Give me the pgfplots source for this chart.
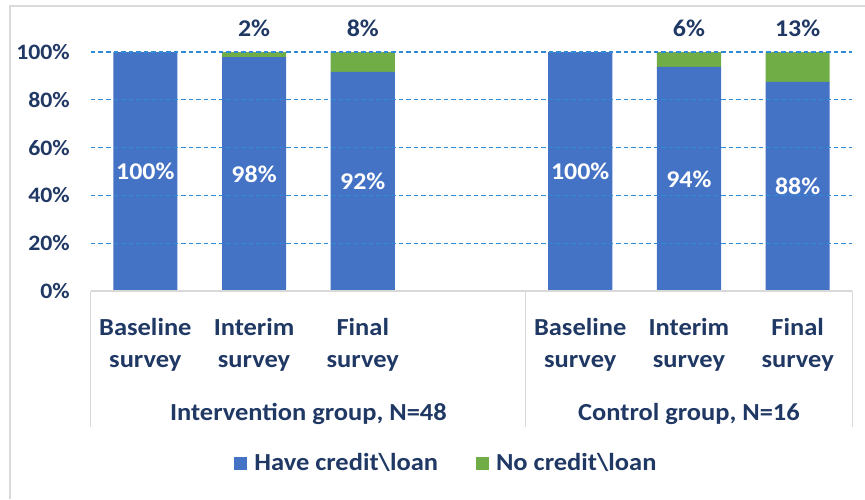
\documentclass[border=0pt]{standalone}
\usepackage{fontspec}
\setmainfont[FakeStretch=1.08]{Carlito}
\usepackage{pgfplots}
\pgfplotsset{compat=1.18}
\definecolor{barblue}{HTML}{4472C4}
\definecolor{bargreen}{HTML}{70AD47}
\definecolor{navy}{HTML}{203864}
\definecolor{gridblue}{HTML}{2F8AD8}
\definecolor{framegray}{HTML}{D9D9D9}
\tikzset{
  inlab/.style={font=\bfseries\fontsize{24}{26}\selectfont, text=white},
  toplab/.style={font=\bfseries\fontsize{24}{26}\selectfont, text=navy, anchor=base, yshift=16pt},
  catlab/.style={font=\bfseries\fontsize{24.5}{32}\selectfont, text=navy, align=center, anchor=center, inner sep=0pt},
  frame/.style={framegray, line width=1pt},
  gridline/.style={draw=gridblue, line width=1.2pt, dash pattern=on 4.5pt off 3pt},
}

\begin{document}
\begin{tikzpicture}
\path[use as bounding box] (-91pt,-208pt) rectangle (774pt,291pt);
\draw[framegray, line width=1.5pt] (-81pt,-208pt) -- (-81pt,285pt) -- (774pt,285pt);
\begin{axis}[
  at={(0pt,0pt)}, anchor=south west,
  scale only axis, width=761pt, height=239pt,
  ybar stacked, bar width=0.59,
  xmin=-0.5, xmax=6.5, ymin=0, ymax=100,
  axis line style={draw=none},
  xtick=\empty,
  ytick={0,20,40,60,80,100},
  yticklabels={0\%,20\%,40\%,60\%,80\%,100\%},
  major tick length=0pt,
  yticklabel style={font=\bfseries\fontsize{22}{24}\selectfont, text=navy, anchor=east, inner sep=0pt, xshift=-21pt},
  clip=false,
  legend style={at={(0.467,-0.72)}, anchor=center, draw=none, fill=none,
    legend columns=2, font=\bfseries\fontsize{24.5}{28}\selectfont, text=navy,
    /tikz/every odd column/.append style={column sep=5pt},
    /tikz/every even column/.append style={column sep=36pt}},
  legend image code/.code={\fill[#1] (0pt,-6.5pt) rectangle (13pt,6.5pt);},
]
% dashed gridlines, drawn before the bars so they stay behind them
\draw[gridline] (axis cs:-0.5,20) -- (axis cs:6.5,20);
\draw[gridline] (axis cs:-0.5,40) -- (axis cs:6.5,40);
\draw[gridline] (axis cs:-0.5,60) -- (axis cs:6.5,60);
\draw[gridline] (axis cs:-0.5,80) -- (axis cs:6.5,80);
\draw[gridline] (axis cs:-0.5,100) -- (axis cs:6.5,100);
% have credit\loan
\addplot[fill=barblue, draw=none] coordinates {
  (0,100) (1,97.9) (2,91.7) (4,100) (5,93.75) (6,87.5)
};
% no credit\loan
\addplot[fill=bargreen, draw=none] coordinates {
  (0,0) (1,2.1) (2,8.3) (4,0) (5,6.25) (6,12.5)
};
\legend{Have credit\textbackslash loan, No credit\textbackslash loan}

% anchors for the labels inside the blue bars (middle of each segment)
\coordinate (l0) at (axis cs:0,50);
\coordinate (l1) at (axis cs:1,49);
\coordinate (l2) at (axis cs:2,45.8);
\coordinate (l4) at (axis cs:4,50);
\coordinate (l5) at (axis cs:5,46.9);
\coordinate (l6) at (axis cs:6,43.8);
\coordinate (z0) at (axis cs:-0.5,0);
\coordinate (z1) at (axis cs:6.5,0);
% value labels above green segments
\node[toplab] at (axis cs:1,100) {2\%};
\node[toplab] at (axis cs:2,100) {8\%};
\node[toplab] at (axis cs:5,100) {6\%};
\node[toplab] at (axis cs:6,100) {13\%};

% category frame
\draw[frame] (axis cs:-0.5,0) -- ++(0pt,-136pt);
\draw[frame] (axis cs:3.5,0) -- ++(0pt,-136pt);
\draw[frame] (axis cs:6.5,0) -- ++(0pt,-136pt);

\node[catlab, yshift=-54pt] at (axis cs:0,0) {Baseline\\survey};
\node[catlab, yshift=-54pt] at (axis cs:1,0) {Interim\\survey};
\node[catlab, yshift=-54pt] at (axis cs:2,0) {Final\\survey};
\node[catlab, yshift=-54pt] at (axis cs:4,0) {Baseline\\survey};
\node[catlab, yshift=-54pt] at (axis cs:5,0) {Interim\\survey};
\node[catlab, yshift=-54pt] at (axis cs:6,0) {Final\\survey};
\node[catlab, yshift=-123pt] at (axis cs:1.5,0) {Intervention group, N=48};
\node[catlab, yshift=-123pt] at (axis cs:5,0) {Control group, N=16};
\end{axis}
\draw[framegray, line width=1.2pt] (z0) -- (z1);
\node[inlab] at (l0) {100\%};
\node[inlab] at (l1) {98\%};
\node[inlab] at (l2) {92\%};
\node[inlab] at (l4) {100\%};
\node[inlab] at (l5) {94\%};
\node[inlab] at (l6) {88\%};
\end{tikzpicture}
\end{document}
